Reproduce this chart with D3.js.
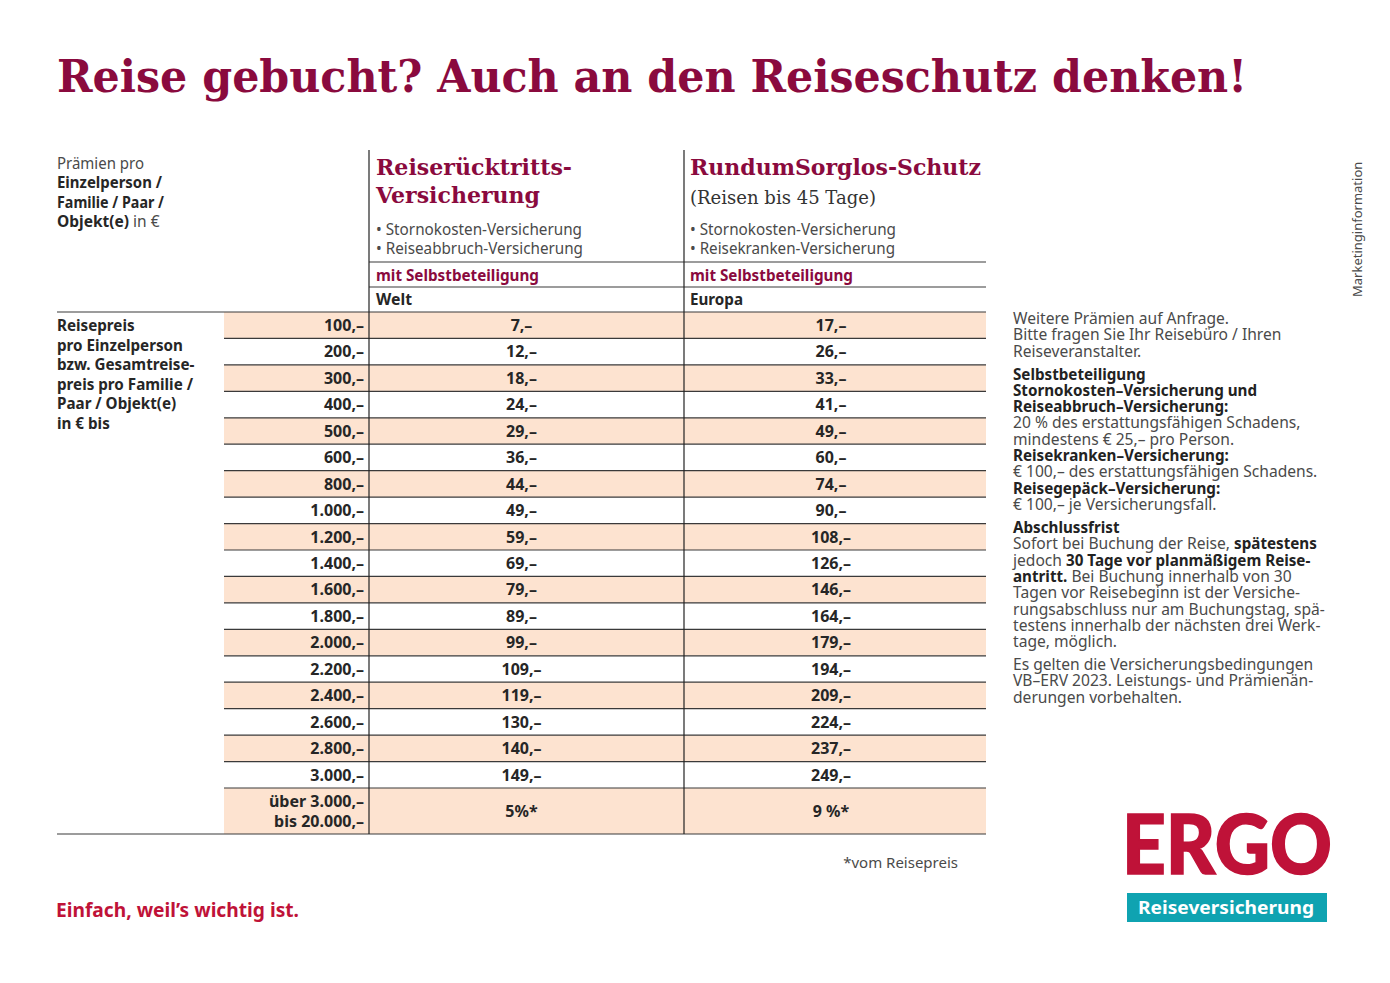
<!DOCTYPE html>
<html>
<head>
<meta charset="utf-8">
<script src="https://cdn.jsdelivr.net/npm/d3@7"></script>
<style>
  html, body { margin: 0; padding: 0; background: #fff; }
  svg { display: block; }
  text { font-family: "Noto Sans", sans-serif; fill: #262626; }
</style>
</head>
<body>
<script>
// table content
const prices = ["100,–","200,–","300,–","400,–","500,–","600,–","800,–","1.000,–","1.200,–","1.400,–","1.600,–","1.800,–","2.000,–","2.200,–","2.400,–","2.600,–","2.800,–","3.000,–"];
const welt = ["7,–","12,–","18,–","24,–","29,–","36,–","44,–","49,–","59,–","69,–","79,–","89,–","99,–","109,–","119,–","130,–","140,–","149,–"];
const europa = ["17,–","26,–","33,–","41,–","49,–","60,–","74,–","90,–","108,–","126,–","146,–","164,–","179,–","194,–","209,–","224,–","237,–","249,–"];
const lastPrice = ["über 3.000,–", "bis 20.000,–"];
const lastWelt = "5%*";
const lastEuropa = "9 %*";

const rowLabel = ["Reisepreis","pro Einzelperson","bzw. Gesamtreise-","preis pro Familie /","Paar / Objekt(e)","in € bis"];

// side notes, [text, bold] pieces per line
const notesA = [[["Weitere Prämien auf Anfrage.",0]],[["Bitte fragen Sie Ihr Reisebüro / Ihren",0]],[["Reiseveranstalter.",0]]];
const notesB = [[["Selbstbeteiligung",1]],[["Stornokosten–Versicherung und",1]],[["Reiseabbruch–Versicherung:",1]],
  [["20 % des erstattungsfähigen Schadens,",0]],[["mindestens € 25,– pro Person.",0]],[["Reisekranken–Versicherung:",1]],
  [["€ 100,– des erstattungsfähigen Schadens.",0]],[["Reisegepäck–Versicherung:",1]],[["€ 100,– je Versicherungsfall.",0]]];
const notesC = [[["Abschlussfrist",1]],[["Sofort bei Buchung der Reise, ",0],["spätestens",1]],[["jedoch ",0],["30 Tage vor planmäßigem Reise-",1]],
  [["antritt.",1],[" Bei Buchung innerhalb von 30",0]],[["Tagen vor Reisebeginn ist der Versiche-",0]],[["rungsabschluss nur am Buchungstag, spä-",0]],
  [["testens innerhalb der nächsten drei Werk-",0]],[["tage, möglich.",0]]];
const notesD = [[["Es gelten die Versicherungsbedingungen",0]],[["VB–ERV 2023. Leistungs- und Prämienän-",0]],[["derungen vorbehalten.",0]]];

const wine = "#8a0a3e", red = "#bf1238", peach = "#fde3d0", line = "#3a3a3a", grey = "#4a4a4a";
const serif = '"DejaVu Serif", serif';

const svg = d3.select("body").append("svg").attr("width", 1390).attr("height", 983);

// rows via band scale, the last row is taller
const y = d3.scaleBand().domain(d3.range(prices.length)).range([312, 788]);
const rowX = 224, col1 = 369, col2 = 684, right = 986, left = 57, bottom = 834;

function txt(x, yy, s, o = {}) {
  const t = svg.append("text").attr("x", x).attr("y", yy).text(s)
    .style("font-size", (o.size || 16) + "px")
    .style("font-weight", o.bold ? 700 : 400)
    .style("text-anchor", o.anchor || "start");
  if (o.font) t.style("font-family", o.font);
  if (o.color) t.style("fill", o.color);
  if (o.len) t.attr("textLength", o.len).attr("lengthAdjust", "spacingAndGlyphs");
  return t;
}

// title
txt(57, 92, "Reise gebucht? Auch an den Reiseschutz denken!", { size: 44, bold: 1, font: serif, color: wine, len: 1190 });

// top left
txt(57, 169, "Prämien pro", { size: 15.5, color: grey, len: 87 });
txt(57, 188, "Einzelperson /", { size: 15.5, bold: 1, len: 105 });
txt(57, 208, "Familie / Paar /", { size: 15.5, bold: 1, len: 107 });
const ob = txt(57, 227, "", { size: 15.5 });
ob.append("tspan").style("font-weight", 700).text("Objekt(e)");
ob.append("tspan").style("fill", grey).text(" in €");

// stripes
svg.append("g").selectAll("rect").data(prices).join("rect")
  .attr("x", rowX).attr("width", right - rowX)
  .attr("y", (d, i) => y(i)).attr("height", y.bandwidth())
  .attr("fill", (d, i) => i % 2 ? "#fff" : peach);
svg.append("rect").attr("x", rowX).attr("width", right - rowX).attr("y", 788).attr("height", bottom - 788).attr("fill", peach);

// row rules
svg.append("g").selectAll("line").data(prices).join("line")
  .attr("x1", (d, i) => i ? rowX : left).attr("x2", right)
  .attr("y1", (d, i) => y(i)).attr("y2", (d, i) => y(i))
  .attr("stroke", line).attr("stroke-width", 1.2);
svg.append("line").attr("x1", rowX).attr("x2", right).attr("y1", 788).attr("y2", 788).attr("stroke", line).attr("stroke-width", 1.2);
svg.append("line").attr("x1", left).attr("x2", right).attr("y1", bottom).attr("y2", bottom).attr("stroke", line).attr("stroke-width", 1.2);
[262, 287].forEach(v => svg.append("line").attr("x1", col1).attr("x2", right).attr("y1", v).attr("y2", v).attr("stroke", line).attr("stroke-width", 1.2));

// column rules
svg.append("line").attr("x1", col1).attr("x2", col1).attr("y1", 150).attr("y2", bottom).attr("stroke", "#222").attr("stroke-width", 1.2);
svg.append("line").attr("x1", col2).attr("x2", col2).attr("y1", 150).attr("y2", bottom).attr("stroke", "#222").attr("stroke-width", 1.2);

// column heads
txt(376, 175, "Reiserücktritts-", { size: 23, bold: 1, font: serif, color: wine, len: 196 });
txt(376, 203, "Versicherung", { size: 23, bold: 1, font: serif, color: wine, len: 164 });
txt(690, 175, "RundumSorglos-Schutz", { size: 23, bold: 1, font: serif, color: wine, len: 291 });
txt(690, 204, "(Reisen bis 45 Tage)", { size: 18.5, font: serif, color: "#333", len: 186 });
txt(376, 235, "• Stornokosten-Versicherung", { size: 16, color: grey, len: 206 });
txt(376, 254, "• Reiseabbruch-Versicherung", { size: 16, color: grey, len: 207 });
txt(690, 235, "• Stornokosten-Versicherung", { size: 16, color: grey, len: 206 });
txt(690, 254, "• Reisekranken-Versicherung", { size: 16, color: grey, len: 205 });
txt(376, 281, "mit Selbstbeteiligung", { size: 15.5, bold: 1, color: wine, len: 163 });
txt(690, 281, "mit Selbstbeteiligung", { size: 15.5, bold: 1, color: wine, len: 163 });
txt(376, 305, "Welt", { size: 15.5, bold: 1, len: 36 });
txt(690, 305, "Europa", { size: 15.5, bold: 1, len: 53 });

// row label
rowLabel.forEach((s, i) => txt(57, 331 + i * 19.5, s, { size: 15.2, bold: 1 }));

// cells
const cy = i => y(i) + y.bandwidth() / 2 + 5.8;
const cell = (data, x) => svg.append("g").selectAll("text").data(data).join("text")
  .attr("x", x).attr("y", (d, i) => cy(i)).attr("text-anchor", "middle")
  .style("font-size", "16px").style("font-weight", 700).text(d => d);
cell(welt, 521.5);
cell(europa, 831);
svg.append("g").selectAll("text").data(prices).join("text")
  .attr("x", 364).attr("y", (d, i) => cy(i)).attr("text-anchor", "end")
  .style("font-size", "16px").style("font-weight", 700).text(d => d);

txt(364, 807, lastPrice[0], { size: 16, bold: 1, anchor: "end" });
txt(364, 827, lastPrice[1], { size: 16, bold: 1, anchor: "end" });
txt(521.5, 817, lastWelt, { size: 16, bold: 1, anchor: "middle" });
txt(831, 817, lastEuropa, { size: 16, bold: 1, anchor: "middle" });

txt(958, 868, "*vom Reisepreis", { size: 15, color: grey, anchor: "end" });

// side notes
function notes(lines, top) {
  lines.forEach((pieces, i) => {
    const t = txt(1013, top + i * 16.3, "", {});
    pieces.forEach(p => t.append("tspan").text(p[0])
      .style("font-size", p[1] ? "15.2px" : "15.6px")
      .style("font-weight", p[1] ? 700 : 400).style("fill", p[1] ? "#222" : grey));
  });
}
notes(notesA, 324);
notes(notesB, 379.5);
notes(notesC, 533);
notes(notesD, 670);

svg.append("text").attr("transform", "translate(1362,297) rotate(-90)")
  .style("font-size", "13px").style("fill", grey).text("Marketinginformation");

// footer
txt(56, 917, "Einfach, weil’s wichtig ist.", { size: 20, bold: 1, color: red, len: 243 });
txt(1122, 874, "ERGO", { size: 81, bold: 1, color: red, font: 'Lato, sans-serif', len: 210 })
  .style("font-weight", 900).style("stroke", red).style("stroke-width", 1.5);
svg.append("rect").attr("x", 1127).attr("y", 893).attr("width", 200).attr("height", 29).attr("fill", "#0fa3b1");
txt(1138, 914, "Reiseversicherung", { size: 18, bold: 1, color: "#fff", len: 176 });
</script>
</body>
</html>
